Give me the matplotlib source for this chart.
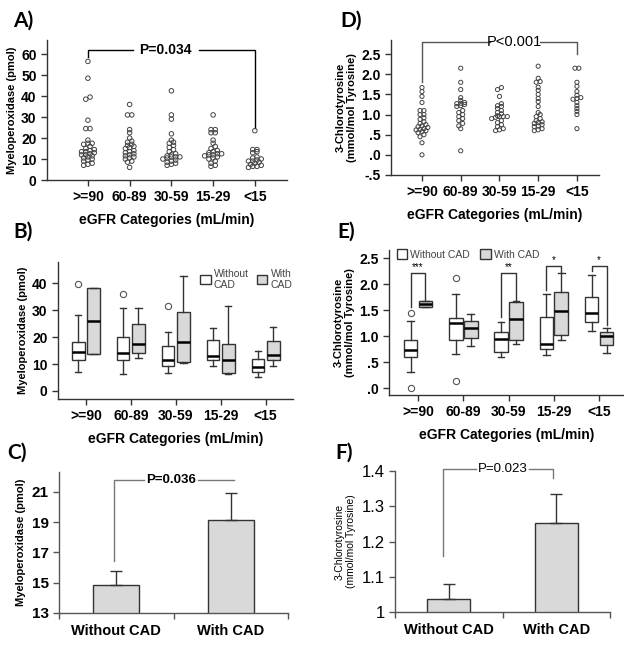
import numpy as np
import matplotlib
matplotlib.use('Agg')
import matplotlib.pyplot as plt
from matplotlib.patches import Patch

plt.rcParams['font.family'] = ['Liberation Sans', 'DejaVu Sans']

categories = ['>=90', '60-89', '30-59', '15-29', '<15']

# A) myeloperoxidase (pmol) per eGFR category
mpo_dots = [
    [56.5, 48.5, 39.5, 38.5, 28.5, 24.5, 24.5, 19, 17.5, 17.5, 17, 16, 15, 14.5, 14, 13.5,
     13.5, 13, 12.5, 12, 12, 11.5, 11, 10.5, 10, 9.5, 9, 8, 7.5, 7],
    [36, 31, 31, 24, 22.5, 20, 18.5, 18, 17, 16.5, 16, 15.5, 15, 14, 13.5, 13, 12.5, 12,
     11.5, 11, 10.5, 10, 9, 8.5, 6],
    [42.5, 31, 29, 22, 19, 18, 17.5, 16.5, 15.5, 14.5, 13.5, 12.5, 12, 11.5, 11, 11, 11,
     10.5, 10, 9.5, 9, 8.5, 8, 7.5, 7],
    [31, 24, 24, 22.5, 22.5, 19, 17.5, 16, 15, 14, 13.5, 13, 12.5, 12.5, 12, 12, 11.5, 11,
     10.5, 10, 9, 8, 7, 6.5],
    [23.5, 14.5, 14.5, 13.5, 13, 11, 10.5, 10, 9.5, 9, 9, 8.5, 8, 7.5, 7, 6.5, 6.5, 6],
]

# D) 3-chlorotyrosine (mmol/mol tyrosine) per eGFR category
clt_dots = [
    [1.67, 1.57, 1.45, 1.3, 1.1, 1.1, 1.0, 1.0, 0.92, 0.88, 0.82, 0.78, 0.75, 0.72, 0.7,
     0.68, 0.65, 0.63, 0.62, 0.6, 0.58, 0.55, 0.5, 0.45, 0.3, 0.0],
    [2.15, 1.8, 1.62, 1.42, 1.35, 1.3, 1.28, 1.27, 1.25, 1.22, 1.2, 1.1, 1.05, 1.0, 0.95,
     0.9, 0.85, 0.78, 0.72, 0.65, 0.1],
    [1.67, 1.62, 1.45, 1.27, 1.22, 1.2, 1.15, 1.1, 1.05, 1.02, 0.97, 0.95, 0.95, 0.95, 0.93,
     0.9, 0.85, 0.8, 0.75, 0.7, 0.65, 0.62, 0.6],
    [2.2, 1.9, 1.82, 1.8, 1.68, 1.6, 1.5, 1.4, 1.32, 1.2, 1.05, 1.0, 0.95, 0.9, 0.85, 0.82,
     0.8, 0.78, 0.75, 0.72, 0.7, 0.65, 0.62, 0.6],
    [2.15, 2.15, 1.8, 1.7, 1.57, 1.48, 1.42, 1.4, 1.38, 1.3, 1.22, 1.15, 1.08, 1.0, 0.65],
]

# B) boxes: whisker low, Q1, median, Q3, whisker high
mpo_box_without = [[6.9, 11.5, 14.4, 18.3, 28.2], [6.2, 11.5, 14.2, 19.9, 30.7],
                   [6.8, 9.4, 11.5, 16.7, 22.0], [9.4, 11.5, 13.1, 18.9, 23.6],
                   [5.2, 6.9, 9.0, 11.8, 14.9]]
mpo_box_with = [[13.6, 13.6, 26.0, 38.5, 38.5], [12.1, 14.2, 17.6, 25.0, 30.7],
                [10.5, 10.9, 18.1, 29.5, 42.7], [6.3, 6.6, 11.4, 17.5, 31.6],
                [9.4, 11.4, 13.4, 18.7, 23.9]]
mpo_out_without = [[39.7], [36.0], [31.6], [], []]
mpo_out_with = [[], [], [], [], []]

# E) boxes
clt_box_without = [[0.31, 0.61, 0.73, 0.93, 1.30], [0.66, 0.92, 1.26, 1.36, 1.81],
                   [0.60, 0.70, 0.94, 1.09, 1.28], [0.64, 0.75, 0.85, 1.37, 1.81],
                   [1.10, 1.27, 1.44, 1.76, 2.18]]
clt_box_with = [[1.56, 1.56, 1.62, 1.68, 1.68], [0.81, 0.96, 1.15, 1.30, 1.43],
                [0.86, 0.93, 1.33, 1.65, 1.67], [0.92, 1.02, 1.49, 1.86, 2.21],
                [0.67, 0.83, 1.01, 1.08, 1.15]]
clt_out_without = [[1.44, 0.01], [2.13, 0.13], [], [], []]
clt_out_with = [[], [], [], [], []]
clt_stars = ['***', '', '**', '*', '*']
# bracket: top, left drop, right drop
clt_brackets = [(2.21, 1.57, 1.70), None, (2.21, 1.38, 1.70), (2.35, 1.89, 2.23), (2.35, 2.26, 1.22)]

# C) and F) means with SEM
groups = ['Without CAD', 'With CAD']
mpo_mean = [14.83, 19.13]
mpo_sem = [0.93, 1.80]
clt_mean = [1.037, 1.253]
clt_sem = [0.043, 0.083]

W, H = 624, 648
fig = plt.figure(figsize=(W / 100, H / 100), dpi=100)
DARK = '#333333'
GREY_FILL = '#d9d9d9'


def px_axes(l, t, r, b):
    return fig.add_axes([l / W, 1 - b / H, (r - l) / W, (b - t) / H])


def style(ax, color=DARK):
    for s in ['top', 'right']:
        ax.spines[s].set_visible(False)
    for s in ['left', 'bottom']:
        ax.spines[s].set_color(color)
        ax.spines[s].set_linewidth(1.0)
    ax.tick_params(colors=color, width=1.0, length=4, labelcolor='black')


def swarm(ax, xc, vals, d):
    """row-binned offsets (data units), points in a row spread apart"""
    vals = np.asarray(vals, float)
    ys = ax.transData.transform(np.column_stack([np.full(len(vals), xc), vals]))[:, 1]
    sx = ax.transData.transform([[1, 0]])[0][0] - ax.transData.transform([[0, 0]])[0][0]
    order = np.argsort(ys)
    offs = np.zeros(len(vals))
    rows, cur, start = [], [], None
    for i in order:
        if start is None or ys[i] - start > d * 0.55:
            if cur:
                rows.append(cur)
            cur, start = [i], ys[i]
        else:
            cur.append(i)
    rows.append(cur)
    for r in rows:
        n = len(r)
        for k, i in enumerate(r):
            offs[i] = (k - (n - 1) / 2) * d * 0.85 / sx
    return offs


def dot_panel(ax, data, d):
    for i, vals in enumerate(data):
        offs = swarm(ax, i, vals, d)
        ax.scatter(i + offs, vals, s=(d / 1.389 * 0.9) ** 2, facecolors='none',
                   edgecolors='#444444', linewidths=0.7, zorder=3, clip_on=False)


def box_panel(ax, without, with_, out_without, out_with, off, width):
    for data, outs, shift, face in [(without, out_without, -off, 'white'),
                                    (with_, out_with, off, GREY_FILL)]:
        stats = [dict(whislo=b[0], q1=b[1], med=b[2], q3=b[3], whishi=b[4], fliers=f)
                 for b, f in zip(data, outs)]
        ax.bxp(stats, positions=np.arange(len(stats)) + shift, widths=width,
               capwidths=width * 0.5, patch_artist=True, manage_ticks=False,
               boxprops=dict(facecolor=face, edgecolor=DARK, linewidth=1.0),
               whiskerprops=dict(color=DARK, linewidth=1.0),
               capprops=dict(color=DARK, linewidth=1.0),
               medianprops=dict(color='black', linewidth=1.8),
               flierprops=dict(marker='o', markerfacecolor='none', markeredgecolor='#555555',
                               markersize=4.5, markeredgewidth=0.8))


tick_font = dict(fontsize=10, fontweight='bold')
ylab_font = dict(fontsize=8, fontweight='bold')

# ---------------- A ----------------
axA = px_axes(47, 40, 287, 180)
axA.set_xlim(-0.98, 4.77)
axA.set_ylim(0, 66.7)
style(axA)
dot_panel(axA, mpo_dots, 5.0)
axA.set_yticks([0, 10, 20, 30, 40, 50, 60])
axA.set_yticklabels(['0', '10', '20', '30', '40', '50', '60'], **tick_font)
axA.set_xticks(range(5))
axA.set_xticklabels(categories, **tick_font)
axA.set_xlabel('eGFR Categories (mL/min)', labelpad=6, **tick_font)
axA.set_ylabel('Myeloperoxidase (pmol)', labelpad=3, **ylab_font)
kw = dict(color='black', lw=1.0, clip_on=False)
axA.plot([0, 0, 1.08], [58.5, 62, 62], **kw)
axA.plot([2.65, 4, 4], [62, 62, 25], **kw)
axA.text(1.85, 62, 'P=0.034', ha='center', va='center', **tick_font)

# ---------------- D ----------------
axD = px_axes(391, 40, 599, 175)
axD.set_xlim(-0.8, 4.57)
axD.set_ylim(-0.5, 2.85)
style(axD)
dot_panel(axD, clt_dots, 4.6)
axD.set_yticks([-0.5, 0, 0.5, 1.0, 1.5, 2.0, 2.5])
axD.set_yticklabels(['-.5', '.0', '.5', '1.0', '1.5', '2.0', '2.5'], **tick_font)
axD.set_xticks(range(5))
axD.set_xticklabels(categories, **tick_font)
axD.set_xlabel('eGFR Categories (mL/min)', labelpad=6, **tick_font)
axD.set_ylabel('3-Chlorotyrosine\n(mmol/mol Tyrosine)', labelpad=3, **ylab_font)
kw = dict(color='#555555', lw=1.0, clip_on=False)
axD.plot([0, 0, 1.75], [1.8, 2.8, 2.8], **kw)
axD.plot([3.05, 4, 4], [2.8, 2.8, 2.5], **kw)
axD.text(2.38, 2.8, 'P<0.001', ha='center', va='center', fontsize=10.5)

# ---------------- B ----------------
axB = px_axes(58, 262, 293, 399)
axB.set_xlim(-0.62, 4.61)
axB.set_ylim(-3, 48)
style(axB)
box_panel(axB, mpo_box_without, mpo_box_with, mpo_out_without, mpo_out_with, 0.17, 0.28)
axB.set_yticks([0, 10, 20, 30, 40])
axB.set_yticklabels(['0', '10', '20', '30', '40'], **tick_font)
axB.set_xticks(range(5))
axB.set_xticklabels(categories, **tick_font)
axB.set_xlabel('eGFR Categories (mL/min)', labelpad=6, **tick_font)
axB.set_ylabel('Myeloperoxidase (pmol)', labelpad=3, **ylab_font)
axB.legend(handles=[Patch(facecolor='white', edgecolor=DARK), Patch(facecolor=GREY_FILL, edgecolor=DARK)],
           labels=['Without\nCAD', 'With\nCAD'], ncol=2, frameon=False, loc='upper right',
           bbox_to_anchor=(1.02, 0.99), fontsize=7.5, handlelength=1.0, handleheight=1.0,
           handletextpad=0.3, columnspacing=0.8, labelcolor='#444444', borderpad=0)

# ---------------- E ----------------
axE = px_axes(389, 250, 624, 395)
axE.set_xlim(-0.64, 4.55)
axE.set_ylim(-0.13, 2.66)
style(axE)
box_panel(axE, clt_box_without, clt_box_with, clt_out_without, clt_out_with, 0.165, 0.30)
axE.set_yticks([0, 0.5, 1.0, 1.5, 2.0, 2.5])
axE.set_yticklabels(['.0', '.5', '1.0', '1.5', '2.0', '2.5'], **tick_font)
axE.set_xticks(range(5))
axE.set_xticklabels(categories, **tick_font)
axE.set_xlabel('eGFR Categories (mL/min)', labelpad=6, **tick_font)
axE.set_ylabel('3-Chlorotyrosine\n(mmol/mol Tyrosine)', labelpad=3, **ylab_font)
for i, (br, star) in enumerate(zip(clt_brackets, clt_stars)):
    if br is None:
        continue
    top, left, right = br
    axE.plot([i - 0.165, i - 0.165, i + 0.165, i + 0.165], [left, top, top, right],
             color=DARK, lw=1.0, clip_on=False)
    axE.text(i, top + 0.02, star, ha='center', va='bottom', fontsize=7)
axE.legend(handles=[Patch(facecolor='white', edgecolor=DARK), Patch(facecolor=GREY_FILL, edgecolor=DARK)],
           labels=['Without CAD', 'With CAD'], ncol=2, frameon=False, loc='upper left',
           bbox_to_anchor=(0.01, 1.04), fontsize=7.5, handlelength=1.0, handleheight=1.0,
           handletextpad=0.3, columnspacing=1.0, labelcolor='#444444', borderpad=0)

# ---------------- C ----------------
axC = px_axes(59, 472, 288, 613)
axC.set_xlim(-0.5, 1.5)
axC.set_ylim(13, 22.3)
style(axC, '#555555')
x = np.arange(len(groups))
axC.bar(x, mpo_mean, width=0.4, color=GREY_FILL, edgecolor=DARK, linewidth=1.0)
axC.errorbar(x, mpo_mean, yerr=[[0, 0], mpo_sem], fmt='none', ecolor=DARK, elinewidth=1.0,
             capsize=4, capthick=1.0)
axC.set_yticks([13, 15, 17, 19, 21])
axC.set_yticklabels(['13', '15', '17', '19', '21'], fontsize=11, fontweight='bold')
axC.set_xticks([-0.5, 0.5, 1.5])
axC.set_xticklabels([])
axC.set_xticks(x, minor=True)
axC.set_xticklabels(groups, minor=True, fontsize=10.5, fontweight='bold')
axC.tick_params(axis='x', which='minor', length=0, pad=8)
axC.set_ylabel('Myeloperoxidase (pmol)', labelpad=4, **ylab_font)
kw = dict(color='#777777', lw=1.0, clip_on=False)
axC.plot([-0.02, -0.02, 0.24], [16.4, 21.75, 21.75], **kw)
axC.plot([0.71, 1.03], [21.75, 21.75], **kw)
axC.text(0.48, 21.75, 'P=0.036', ha='center', va='center', fontsize=9.5, fontweight='bold')

# ---------------- F ----------------
axF = px_axes(395, 471, 610, 612)
axF.set_xlim(-0.5, 1.5)
axF.set_ylim(1.0, 1.4)
style(axF, '#555555')
axF.bar(x, clt_mean, width=0.4, color=GREY_FILL, edgecolor=DARK, linewidth=1.0)
axF.errorbar(x, clt_mean, yerr=[[0, 0], clt_sem], fmt='none', ecolor=DARK, elinewidth=1.0,
             capsize=4, capthick=1.0)
axF.set_yticks([1.0, 1.1, 1.2, 1.3, 1.4])
axF.set_yticklabels(['1', '1.1', '1.2', '1.3', '1.4'], fontsize=12)
axF.set_xticks([-0.5, 0.5, 1.5])
axF.set_xticklabels([])
axF.set_xticks(x, minor=True)
axF.set_xticklabels(groups, minor=True, fontsize=10.5, fontweight='bold')
axF.tick_params(axis='x', which='minor', length=0, pad=8)
axF.set_ylabel('3-Chlorotyrosine\n(mmol/mol Tyrosine)', labelpad=4, fontsize=7.5)
kw = dict(color='#777777', lw=1.0, clip_on=False)
axF.plot([-0.05, -0.05, 0.25], [1.158, 1.407, 1.407], **kw)
axF.plot([0.75, 0.97, 0.97], [1.407, 1.407, 1.381], **kw)
axF.text(0.5, 1.407, 'P=0.023', ha='center', va='center', fontsize=9.5)

# panel letters
for lab, px, py in [('A)', 13, 21), ('D)', 340, 21), ('B)', 13, 232), ('E)', 337, 232),
                    ('C)', 7, 453), ('F)', 335, 453)]:
    fig.text(px / W, 1 - py / H, lab, fontsize=15, fontweight='bold', family='Lato',
             ha='left', va='center')

fig.savefig('out.png', dpi=100)
